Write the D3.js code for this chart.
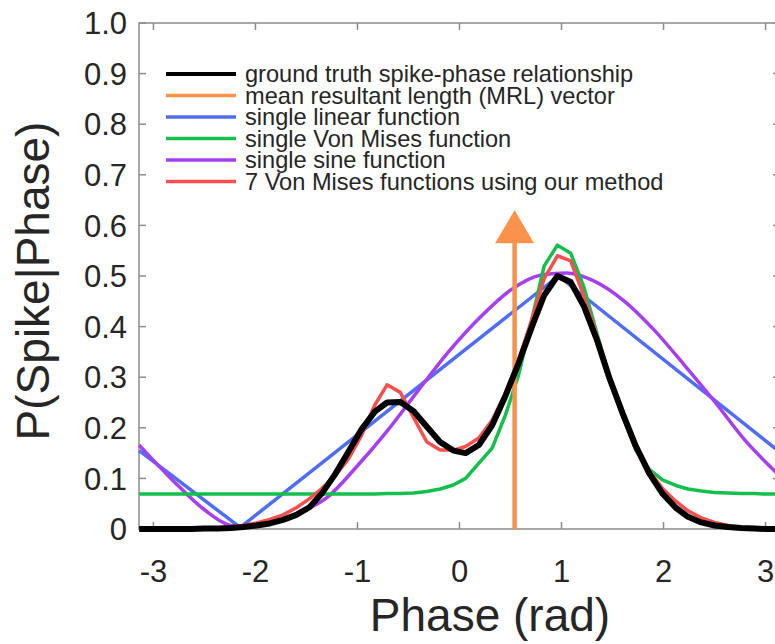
<!DOCTYPE html>
<html>
<head>
<meta charset="utf-8">
<script src="https://cdn.jsdelivr.net/npm/d3@7/dist/d3.min.js"></script>
<style>
  body { margin: 0; background: #fff; }
  svg { display: block; font-family: "Liberation Sans", Arial, Helvetica, sans-serif; }
</style>
</head>
<body>
<svg id="chart" width="775" height="644"></svg>
<script>
// phase grid shared by the sampled curves (rad)
const phase = [-3.14, -3.01, -2.89, -2.76, -2.63, -2.50, -2.37, -2.24, -2.12, -1.99,
  -1.86, -1.73, -1.60, -1.47, -1.35, -1.22, -1.09, -0.96, -0.83, -0.71,
  -0.58, -0.45, -0.32, -0.19, -0.06, 0.06, 0.19, 0.32, 0.45, 0.58,
  0.71, 0.83, 0.96, 1.09, 1.22, 1.35, 1.47, 1.60, 1.73, 1.86,
  1.99, 2.12, 2.24, 2.37, 2.50, 2.63, 2.76, 2.89, 3.01, 3.14];

const groundTruth = [0, 0, 0, 0, 0, 0.001, 0.001, 0.002, 0.004, 0.007,
  0.011, 0.018, 0.028, 0.043, 0.070, 0.108, 0.152, 0.197, 0.232, 0.250,
  0.251, 0.233, 0.202, 0.172, 0.155, 0.150, 0.166, 0.205, 0.263, 0.328,
  0.400, 0.462, 0.500, 0.488, 0.440, 0.372, 0.298, 0.228, 0.163, 0.110,
  0.070, 0.042, 0.024, 0.013, 0.007, 0.004, 0.002, 0.001, 0, 0];

const sevenVonMises = [0, 0, 0, 0, 0.001, 0.001, 0.002, 0.004, 0.007, 0.012,
  0.019, 0.028, 0.042, 0.060, 0.080, 0.105, 0.138, 0.185, 0.245, 0.285,
  0.270, 0.220, 0.172, 0.156, 0.156, 0.163, 0.180, 0.215, 0.268, 0.335,
  0.415, 0.495, 0.540, 0.530, 0.460, 0.380, 0.302, 0.232, 0.168, 0.115,
  0.080, 0.055, 0.036, 0.022, 0.013, 0.007, 0.003, 0.001, 0, 0];

const singleVonMises = [0.069, 0.069, 0.069, 0.069, 0.069, 0.069, 0.069, 0.069, 0.069, 0.069,
  0.069, 0.069, 0.069, 0.069, 0.069, 0.069, 0.069, 0.069, 0.069, 0.070,
  0.070, 0.071, 0.074, 0.079, 0.087, 0.100, 0.130, 0.160, 0.225, 0.305,
  0.415, 0.520, 0.561, 0.545, 0.478, 0.385, 0.300, 0.222, 0.155, 0.118,
  0.097, 0.086, 0.079, 0.075, 0.072, 0.071, 0.070, 0.070, 0.069, 0.069];

// single linear function (piecewise, corners only)
const linearPhase = [-3.14, -2.15, 0.97, 3.14];
const linearValues = [0.155, 0.003, 0.500, 0.152];

// single sine function
const sinePhase = [-3.14, -2.8, -2.5, -2.2, -1.9, -1.6, -1.3, -1.0, -0.7, -0.4, -0.1,
  0.2, 0.5, 0.8, 1.05, 1.3, 1.6, 1.9, 2.2, 2.5, 2.8, 3.14];
const sineValues = [0.166, 0.094, 0.038, 0.006, 0.010, 0.030, 0.062, 0.125, 0.196, 0.275, 0.352,
  0.418, 0.472, 0.502, 0.506, 0.492, 0.453, 0.395, 0.325, 0.252, 0.175, 0.105];

// mean resultant length vector
const mrlAngle = 0.54;
const mrlLength = 0.63;

const legendLabels = [
  'ground truth spike-phase relationship',
  'mean resultant length (MRL) vector',
  'single linear function',
  'single Von Mises function',
  'single sine function',
  '7 Von Mises functions using our method'
];
const legendColors = ['#000000', '#f9924a', '#4f6ef5', '#14bf4c', '#a63ff2', '#f94f4f'];

const xTicks = [-3, -2, -1, 0, 1, 2, 3];
const yTicks = [0, 0.1, 0.2, 0.3, 0.4, 0.5, 0.6, 0.7, 0.8, 0.9, 1.0];

const svg = d3.select('#chart');
const plotLeft = 139, plotRight = 780, plotTop = 23, plotBottom = 529;

const x = d3.scaleLinear().domain([-Math.PI, Math.PI]).range([plotLeft, plotRight]);
const y = d3.scaleLinear().domain([0, 1]).range([plotBottom, plotTop]);

const axisColor = '#8c8c8c';
const textColor = '#262626';

// box
svg.append('rect')
  .attr('x', plotLeft).attr('y', plotTop)
  .attr('width', plotRight - plotLeft).attr('height', plotBottom - plotTop)
  .attr('fill', 'none')
  .attr('stroke', axisColor)
  .attr('stroke-width', 1.5);

// ticks pointing in, on all four sides
const tickLen = 7;
const gTicks = svg.append('g').attr('stroke', axisColor).attr('stroke-width', 1.5);
xTicks.forEach(t => {
  gTicks.append('line').attr('x1', x(t)).attr('x2', x(t)).attr('y1', plotBottom).attr('y2', plotBottom - tickLen);
  gTicks.append('line').attr('x1', x(t)).attr('x2', x(t)).attr('y1', plotTop).attr('y2', plotTop + tickLen);
});
yTicks.forEach(t => {
  gTicks.append('line').attr('x1', plotLeft).attr('x2', plotLeft + tickLen).attr('y1', y(t)).attr('y2', y(t));
  gTicks.append('line').attr('x1', plotRight).attr('x2', plotRight - tickLen).attr('y1', y(t)).attr('y2', y(t));
});

// tick labels
svg.append('g').selectAll('text')
  .data(yTicks)
  .enter()
  .append('text')
  .text(d => d === 0 ? '0' : d.toFixed(1))
  .attr('x', plotLeft - 12)
  .attr('y', d => y(d))
  .attr('dy', '0.36em')
  .attr('text-anchor', 'end')
  .attr('fill', textColor)
  .style('font-size', '31px');

svg.append('g').selectAll('text')
  .data(xTicks)
  .enter()
  .append('text')
  .text(d => String(d))
  .attr('x', d => x(d))
  .attr('y', 582)
  .attr('text-anchor', 'middle')
  .attr('fill', textColor)
  .style('font-size', '31px');

// axis titles
svg.append('text')
  .text('Phase (rad)')
  .attr('x', 490)
  .attr('y', 631)
  .attr('text-anchor', 'middle')
  .attr('fill', textColor)
  .style('font-size', '46px');

svg.append('text')
  .text('P(Spike|Phase)')
  .attr('transform', 'translate(49,281) rotate(-90)')
  .attr('text-anchor', 'middle')
  .attr('fill', textColor)
  .style('font-size', '46px');

// curves
const line = d3.line().x(d => x(d[0])).y(d => y(d[1]));
const smooth = d3.line().x(d => x(d[0])).y(d => y(d[1])).curve(d3.curveMonotoneX);

const zip = (xs, ys) => xs.map((v, i) => [v, ys[i]]);

function drawCurve(pts, gen, color, width) {
  svg.append('path')
    .datum(pts)
    .attr('d', gen)
    .attr('fill', 'none')
    .attr('stroke', color)
    .attr('stroke-width', width)
    .attr('stroke-linejoin', 'round');
}

drawCurve(zip(linearPhase, linearValues), line, legendColors[2], 3.5);
drawCurve(zip(sinePhase, sineValues), smooth, legendColors[4], 3.5);
drawCurve(zip(phase, singleVonMises), line, legendColors[3], 3.5);
drawCurve(zip(phase, sevenVonMises), line, legendColors[5], 3.5);

// MRL arrow
const headH = 33, headW = 19.5;
const tipY = y(mrlLength);
svg.append('line')
  .attr('x1', x(mrlAngle)).attr('x2', x(mrlAngle))
  .attr('y1', y(0)).attr('y2', tipY + headH - 1)
  .attr('stroke', legendColors[1])
  .attr('stroke-width', 4.5);
svg.append('path')
  .attr('d', `M${x(mrlAngle)},${tipY} L${x(mrlAngle) + headW},${tipY + headH} L${x(mrlAngle) - headW},${tipY + headH} Z`)
  .attr('fill', legendColors[1]);

drawCurve(zip(phase, groundTruth), line, legendColors[0], 6);

// legend
const legend = svg.append('g');
legendLabels.forEach((label, i) => {
  const ly = 74 + i * 21.5;
  legend.append('line')
    .attr('x1', 166).attr('x2', 236)
    .attr('y1', ly).attr('y2', ly)
    .attr('stroke', legendColors[i])
    .attr('stroke-width', i === 0 ? 4 : 3.5);
  legend.append('text')
    .text(label)
    .attr('x', 245)
    .attr('y', ly)
    .attr('dy', '0.35em')
    .attr('fill', textColor)
    .style('font-size', '23.6px');
});
</script>
</body>
</html>
